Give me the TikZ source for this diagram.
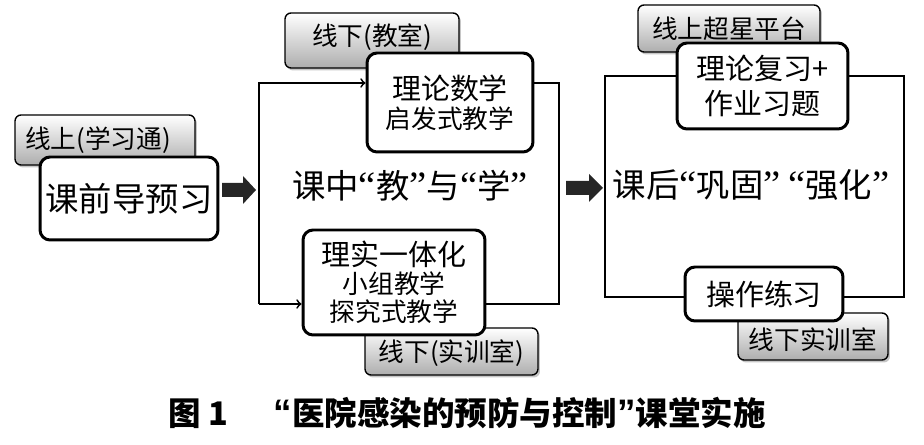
\documentclass[tikz,border=0pt]{standalone}
\usepackage{fontspec}
\setmainfont{Noto Sans CJK SC}
\newfontfamily\quotefont{Liberation Serif}
\newfontfamily\capquotefont{Liberation Sans}
\usetikzlibrary{shadows}

\newcommand\fsbig{\fontsize{19}{22}\selectfont}
\newcommand\fsmid{\fontsize{16.5}{19}\selectfont}
\newcommand\fssmall{\fontsize{14.6}{16}\selectfont}
\newcommand\oq{{\quotefont\fontsize{22}{22}\selectfont “}}
\newcommand\cq{{\quotefont\fontsize{22}{22}\selectfont ”}}

\tikzset{
  tag/.style={draw, line width=0.8pt, rounded corners=0.12cm, top color=white, bottom color=black!32,
    drop shadow={shadow xshift=0.04cm, shadow yshift=-0.05cm, opacity=0.45}, inner sep=0pt, font=\fssmall},
  box/.style={draw, line width=1.7pt, fill=white, rounded corners=0.2cm, align=center, inner sep=0pt},
  frame/.style={line width=1pt},
  blockarrow/.style={fill=black!85}
}

\begin{document}
\begin{tikzpicture}[x=0.02cm, y=-0.02cm]
  \useasboundingbox (0,0) rectangle (924,445);

  \node[tag, minimum width=3.6cm, minimum height=1cm] (tagpre) at (105,140) {};
  \node[font=\fssmall] at (98,140) {线上(学习通)};
  \node[tag, minimum width=3.48cm, minimum height=1.1cm] (tagclass) at (372,40.5) {};
  \node[font=\fssmall] at (372,37) {线下(教室)};
  \node[tag, minimum width=3.46cm, minimum height=0.94cm] (taglab) at (451.5,351.5) {};
  \node[font=\fssmall] at (451.5,353) {线下(实训室)};
  \node[tag, minimum width=3.64cm, minimum height=0.94cm] (tagstar) at (729,28.5) {};
  \node[font=\fssmall] at (729,29) {线上超星平台};
  \node[tag, minimum width=3cm, minimum height=0.94cm] (taglab2) at (813,336.5) {};
  \node[font=\fssmall] at (813,340) {线下实训室};

  \coordinate (mtl) at (259,83);
  \coordinate (mtr) at (559,83);
  \coordinate (mbl) at (259,304);
  \coordinate (mbr) at (559,304);
  \draw[frame] (605,76) rectangle (904,297);

  \node[box, minimum width=3.56cm, minimum height=1.66cm, font=\fsbig] (pre) at (129,198.5) {课前导预习};
  \node[box, minimum width=3.32cm, minimum height=1.98cm, font=\fontsize{14.6}{16.5}\selectfont] (lilun) at (450,102.5)
    {{\fsmid 理论数学}\\启发式教学};
  \node[box, minimum width=3.64cm, minimum height=2.1cm, font=\fontsize{14.6}{16}\selectfont] (shiti) at (394,282.5)
    {{\fsmid 理实一体化}\\小组教学\\探究式教学};
  \node[box, minimum width=3.42cm, minimum height=1.72cm, font=\fontsize{16.5}{20}\selectfont] (fuxi) at (762.5,86)
    {理论复习+\\作业习题};
  \node[box, minimum width=3.16cm, minimum height=1.08cm, font=\fsmid] (caozuo) at (764,294) {操作练习};

  \draw[frame, ->] (mbl) -- (mtl) -- (lilun.west |- mtl);
  \draw[frame, ->] (mbl) -- (shiti.west |- mbl);
  \draw[frame] (lilun.east |- mtl) -- (mtr) -- (mbr) -- (shiti.east |- mbr);

  \node[font=\fsbig] (zhong) at (410,186) {课中\oq 教\cq 与\oq 学\cq};
  \node[font=\fsbig] (hou) at (751,185) {课后\oq 巩固\cq\ \oq 强化\cq};

  \fill[blockarrow] (222,183) -- ++(21,0) -- ++(0,-7) -- ++(13,14) -- ++(-13,14) -- ++(0,-7) -- ++(-21,0) -- cycle;
  \fill[blockarrow] (566,181) -- ++(23,0) -- ++(0,-7) -- ++(14,14) -- ++(-14,14) -- ++(0,-7) -- ++(-23,0) -- cycle;

  \node[font=\fontsize{18.5}{20}\selectfont\bfseries] (caption) at (467,413)
    {图 1\hspace{1.4em}{\capquotefont\fontsize{21}{20}\selectfont “}医院感染的预防与控制{\capquotefont\fontsize{21}{20}\selectfont ”}课堂实施};
\end{tikzpicture}
\end{document}
